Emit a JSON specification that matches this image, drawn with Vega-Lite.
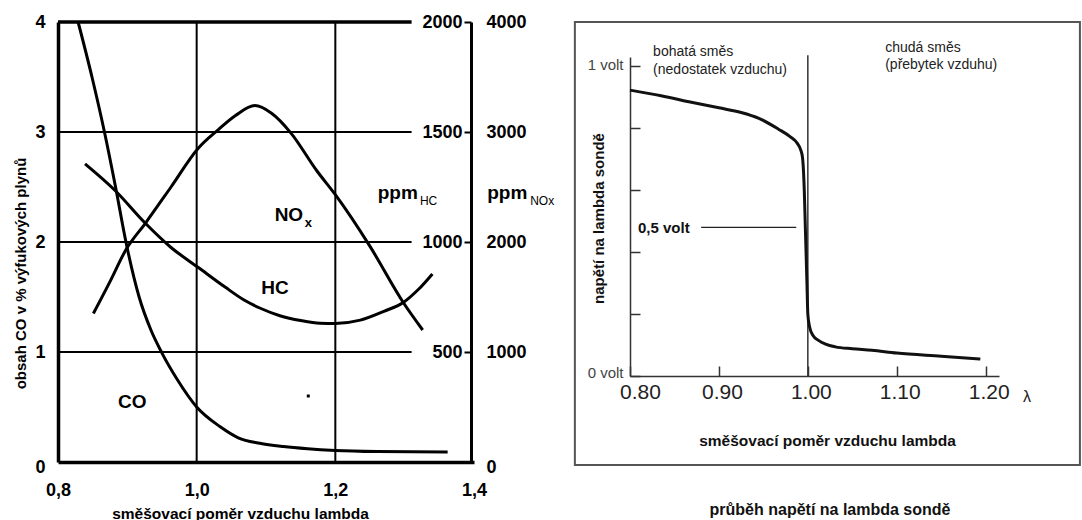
{
  "$schema": "https://vega.github.io/schema/vega-lite/v6.json",
  "width": 1082,
  "height": 520,
  "padding": 0,
  "autosize": {"type": "none"},
  "background": "white",
  "config": {"view": {"stroke": null}, "font": "Liberation Sans", "axis": {"grid": false}},
  "title": {
    "text": "průběh napětí na lambda sondě",
    "orient": "bottom",
    "anchor": "middle",
    "frame": "group",
    "offset": -12,
    "dx": 289,
    "baseline": "middle",
    "fontSize": 16,
    "fontWeight": "bold",
    "font": "Liberation Sans",
    "color": "#111"
  },
  "datasets": {
    "co": [
      {"lambda": 0.829, "co": 4.0}, {"lambda": 0.849, "co": 3.5}, {"lambda": 0.867, "co": 3.0},
      {"lambda": 0.883, "co": 2.5}, {"lambda": 0.898, "co": 2.0}, {"lambda": 0.917, "co": 1.5},
      {"lambda": 0.934, "co": 1.2}, {"lambda": 0.95, "co": 0.99}, {"lambda": 0.972, "co": 0.75},
      {"lambda": 1.0, "co": 0.5}, {"lambda": 1.034, "co": 0.32}, {"lambda": 1.06, "co": 0.22},
      {"lambda": 1.091, "co": 0.17}, {"lambda": 1.125, "co": 0.14}, {"lambda": 1.16, "co": 0.12},
      {"lambda": 1.2, "co": 0.105}, {"lambda": 1.26, "co": 0.095}, {"lambda": 1.362, "co": 0.09}
    ],
    "hc": [
      {"lambda": 0.839, "ppm": 1355}, {"lambda": 0.882, "ppm": 1235}, {"lambda": 0.926, "ppm": 1085},
      {"lambda": 0.963, "ppm": 975}, {"lambda": 1.002, "ppm": 885}, {"lambda": 1.041, "ppm": 795},
      {"lambda": 1.069, "ppm": 735}, {"lambda": 1.091, "ppm": 700}, {"lambda": 1.12, "ppm": 665},
      {"lambda": 1.15, "ppm": 643}, {"lambda": 1.178, "ppm": 631}, {"lambda": 1.2, "ppm": 630},
      {"lambda": 1.236, "ppm": 645}, {"lambda": 1.27, "ppm": 685}, {"lambda": 1.298, "ppm": 725},
      {"lambda": 1.32, "ppm": 785}, {"lambda": 1.34, "ppm": 855}
    ],
    "nox": [
      {"lambda": 0.851, "ppm": 1350}, {"lambda": 0.875, "ppm": 1640}, {"lambda": 0.898, "ppm": 1930},
      {"lambda": 0.926, "ppm": 2170}, {"lambda": 0.963, "ppm": 2500}, {"lambda": 1.002, "ppm": 2850},
      {"lambda": 1.031, "ppm": 3020}, {"lambda": 1.056, "ppm": 3150}, {"lambda": 1.084, "ppm": 3240},
      {"lambda": 1.108, "ppm": 3170}, {"lambda": 1.136, "ppm": 2990}, {"lambda": 1.173, "ppm": 2650},
      {"lambda": 1.2, "ppm": 2430}, {"lambda": 1.25, "ppm": 1960}, {"lambda": 1.298, "ppm": 1450},
      {"lambda": 1.326, "ppm": 1200}
    ],
    "volt": [
      {"lambda": 0.8, "u": 0.923}, {"lambda": 0.835, "u": 0.905}, {"lambda": 0.869, "u": 0.884},
      {"lambda": 0.9, "u": 0.866}, {"lambda": 0.925, "u": 0.851}, {"lambda": 0.945, "u": 0.832},
      {"lambda": 0.967, "u": 0.797}, {"lambda": 0.98, "u": 0.773}, {"lambda": 0.988, "u": 0.752},
      {"lambda": 0.992, "u": 0.73}, {"lambda": 0.994, "u": 0.706}, {"lambda": 0.996, "u": 0.6},
      {"lambda": 0.997, "u": 0.5}, {"lambda": 0.998, "u": 0.4}, {"lambda": 0.999, "u": 0.3},
      {"lambda": 1.0, "u": 0.2}, {"lambda": 1.002, "u": 0.158}, {"lambda": 1.006, "u": 0.13},
      {"lambda": 1.012, "u": 0.115}, {"lambda": 1.02, "u": 0.103}, {"lambda": 1.031, "u": 0.094},
      {"lambda": 1.05, "u": 0.088}, {"lambda": 1.072, "u": 0.083}, {"lambda": 1.1, "u": 0.074},
      {"lambda": 1.15, "u": 0.064}, {"lambda": 1.194, "u": 0.055}
    ],
    "gridH": [{"val": 1}, {"val": 2}, {"val": 3}],
    "gridV": [{"val": 1.0}, {"val": 1.2}],
    "labelsL": [
      {"t": "NO", "lambda": 1.133, "co": 2.245},
      {"t": "HC", "lambda": 1.113, "co": 1.58},
      {"t": "CO", "lambda": 0.907, "co": 0.545},
      {"t": "ppm", "lambda": 1.29, "co": 2.445},
      {"t": "ppm", "lambda": 1.448, "co": 2.445}
    ],
    "subL": [
      {"t": "HC", "lambda": 1.322, "co": 2.37},
      {"t": "NOx", "lambda": 1.481, "co": 2.37}
    ],
    "subX": [{"t": "x", "lambda": 1.156, "co": 2.17}],
    "dot": [{"lambda": 1.161, "co": 0.6}],
    "notesR": [
      {"t": "bohatá směs", "lambda": 0.826, "u": 1.046},
      {"t": "(nedostatek vzduchu)", "lambda": 0.826, "u": 0.988},
      {"t": "chudá směs", "lambda": 1.087, "u": 1.059},
      {"t": "(přebytek vzduhu)", "lambda": 1.087, "u": 1.004}
    ],
    "halfVolt": [{"t": "0,5 volt", "lambda": 0.809, "u": 0.478}],
    "lambdaSym": [{"t": "λ", "lambda": 1.2466, "u": -0.068}],
    "one": [{}]
  },
  "layer": [
    {
      "data": {"name": "gridH"},
      "mark": {"type": "rule", "color": "black", "strokeWidth": 2},
      "encoding": {
        "y": {"field": "val", "type": "quantitative", "scale": {"domain": [0, 4], "range": [462, 22], "nice": false, "zero": false}, "axis": null},
        "x": {"datum": 0.8, "type": "quantitative", "scale": {"domain": [0.8, 1.4], "range": [58, 474], "nice": false, "zero": false}, "axis": null},
        "x2": {"datum": 1.31}
      }
    },
    {
      "data": {"name": "one"},
      "mark": {"type": "rule", "color": "black", "strokeWidth": 3.5},
      "encoding": {
        "y": {"datum": 4, "type": "quantitative", "scale": {"domain": [0, 4], "range": [462, 22], "nice": false, "zero": false}, "axis": null},
        "x": {"datum": 0.8, "type": "quantitative", "scale": {"domain": [0.8, 1.4], "range": [58, 474], "nice": false, "zero": false}, "axis": null},
        "x2": {"datum": 1.31}
      }
    },
    {
      "data": {"name": "gridV"},
      "mark": {"type": "rule", "color": "black", "strokeWidth": 2},
      "encoding": {
        "x": {"field": "val", "type": "quantitative", "scale": {"domain": [0.8, 1.4], "range": [58, 474], "nice": false, "zero": false}, "axis": null},
        "y": {"datum": 0, "type": "quantitative", "scale": {"domain": [0, 4], "range": [462, 22], "nice": false, "zero": false}, "axis": null},
        "y2": {"datum": 4}
      }
    },
    {
      "data": {"name": "co"},
      "mark": {"type": "line", "color": "black", "strokeWidth": 3, "interpolate": "monotone"},
      "encoding": {
        "x": {
          "field": "lambda", "type": "quantitative",
          "scale": {"domain": [0.8, 1.4], "range": [58, 474], "nice": false, "zero": false},
          "axis": {
            "orient": "bottom", "offset": -58, "values": [0.8, 1.0, 1.2, 1.4],
            "labelExpr": "replace(format(datum.value, '.1f'), '.', ',')",
            "domainColor": "black", "domainWidth": 3.5, "ticks": false,
            "labelPadding": 19, "labelFontSize": 18, "labelFontWeight": "bold", "labelColor": "black",
            "labelFlush": false,
            "title": "směšovací poměr vzduchu lambda", "titleFontSize": 15.5, "titleFontWeight": "bold",
            "titleColor": "black", "titleX": 240, "titleY": 51, "titleBaseline": "middle", "titleAlign": "center"
          }
        },
        "y": {
          "field": "co", "type": "quantitative",
          "scale": {"domain": [0, 4], "range": [462, 22], "nice": false, "zero": false},
          "axis": {
            "orient": "left", "offset": -58, "values": [0, 1, 2, 3, 4], "format": "d",
            "domainColor": "black", "domainWidth": 3.5, "ticks": false,
            "labelPadding": 13, "labelFontSize": 18, "labelFontWeight": "bold", "labelColor": "black",
            "labelFlush": false,
            "labelOffset": {"condition": {"test": "datum.value === 0", "value": 5}, "value": 0},
            "title": "obsah CO v % výfukových plynů", "titleFontSize": 15, "titleFontWeight": "bold",
            "titleColor": "black", "titleX": -38, "titleY": 273, "titleBaseline": "middle", "titleAlign": "center", "titleAngle": -90
          }
        }
      }
    },
    {
      "data": {"name": "labelsL"},
      "mark": {"type": "text", "fontSize": 19, "fontWeight": "bold", "color": "black", "align": "center", "baseline": "middle"},
      "encoding": {
        "x": {"field": "lambda", "type": "quantitative", "scale": {"domain": [0.8, 1.4], "range": [58, 474], "nice": false, "zero": false}, "axis": null},
        "y": {"field": "co", "type": "quantitative", "scale": {"domain": [0, 4], "range": [462, 22], "nice": false, "zero": false}, "axis": null},
        "text": {"field": "t"}
      }
    },
    {
      "data": {"name": "subL"},
      "mark": {"type": "text", "fontSize": 12, "color": "black", "align": "left", "baseline": "middle"},
      "encoding": {
        "x": {"field": "lambda", "type": "quantitative", "scale": {"domain": [0.8, 1.4], "range": [58, 474], "nice": false, "zero": false}, "axis": null},
        "y": {"field": "co", "type": "quantitative", "scale": {"domain": [0, 4], "range": [462, 22], "nice": false, "zero": false}, "axis": null},
        "text": {"field": "t"}
      }
    },
    {
      "data": {"name": "subX"},
      "mark": {"type": "text", "fontSize": 13, "fontWeight": "bold", "color": "black", "align": "left", "baseline": "middle"},
      "encoding": {
        "x": {"field": "lambda", "type": "quantitative", "scale": {"domain": [0.8, 1.4], "range": [58, 474], "nice": false, "zero": false}, "axis": null},
        "y": {"field": "co", "type": "quantitative", "scale": {"domain": [0, 4], "range": [462, 22], "nice": false, "zero": false}, "axis": null},
        "text": {"field": "t"}
      }
    },
    {
      "data": {"name": "dot"},
      "mark": {"type": "square", "size": 9, "color": "black", "opacity": 1, "filled": true},
      "encoding": {
        "x": {"field": "lambda", "type": "quantitative", "scale": {"domain": [0.8, 1.4], "range": [58, 474], "nice": false, "zero": false}, "axis": null},
        "y": {"field": "co", "type": "quantitative", "scale": {"domain": [0, 4], "range": [462, 22], "nice": false, "zero": false}, "axis": null}
      }
    },
    {
      "data": {"name": "hc"},
      "mark": {"type": "line", "color": "black", "strokeWidth": 3, "interpolate": "monotone"},
      "encoding": {
        "x": {"field": "lambda", "type": "quantitative", "scale": {"domain": [0.8, 1.4], "range": [58, 474], "nice": false, "zero": false}, "axis": null},
        "y": {
          "field": "ppm", "type": "quantitative",
          "scale": {"domain": [0, 2000], "range": [462, 22], "nice": false, "zero": false},
          "axis": {
            "orient": "left", "offset": -471, "values": [500, 1000, 1500, 2000], "format": "d",
            "domain": false, "ticks": true, "tickSize": 7, "tickWidth": 2, "tickColor": "black",
            "labelPadding": 2, "labelFontSize": 18, "labelFontWeight": "bold", "labelColor": "black",
            "labelFlush": false, "title": null
          }
        }
      }
    },
    {
      "data": {"name": "nox"},
      "mark": {"type": "line", "color": "black", "strokeWidth": 3, "interpolate": "monotone"},
      "encoding": {
        "x": {"field": "lambda", "type": "quantitative", "scale": {"domain": [0.8, 1.4], "range": [58, 474], "nice": false, "zero": false}, "axis": null},
        "y": {
          "field": "ppm", "type": "quantitative",
          "scale": {"domain": [0, 4000], "range": [462, 22], "nice": false, "zero": false},
          "axis": {
            "orient": "right", "offset": -611, "values": [0, 1000, 2000, 3000, 4000], "format": "d",
            "domain": true, "domainColor": "black", "domainWidth": 3, "ticks": false,
            "labelPadding": 15, "labelFontSize": 18, "labelFontWeight": "bold", "labelColor": "black",
            "labelFlush": false,
            "labelOffset": {"condition": {"test": "datum.value === 0", "value": 5}, "value": 0},
            "title": null
          }
        }
      }
    },
    {
      "data": {"name": "one"},
      "mark": {"type": "rect", "fill": null, "fillOpacity": 0, "stroke": "#555", "strokeWidth": 2},
      "encoding": {
        "x": {"datum": 0.738, "type": "quantitative", "scale": {"domain": [0.8, 1.215], "range": [630, 999], "nice": false, "zero": false}, "axis": null},
        "x2": {"datum": 1.306},
        "y": {"datum": 1.143, "type": "quantitative", "scale": {"domain": [0, 1.03], "range": [376, 57], "nice": false, "zero": false}, "axis": null},
        "y2": {"datum": -0.287}
      }
    },
    {
      "data": {"name": "one"},
      "mark": {"type": "rule", "color": "#333", "strokeWidth": 1.5},
      "encoding": {
        "x": {"datum": 1.0, "type": "quantitative", "scale": {"domain": [0.8, 1.215], "range": [630, 999], "nice": false, "zero": false}, "axis": null},
        "y": {"datum": 0, "type": "quantitative", "scale": {"domain": [0, 1.03], "range": [376, 57], "nice": false, "zero": false}, "axis": null},
        "y2": {"datum": 1.036}
      }
    },
    {
      "data": {"name": "one"},
      "mark": {"type": "rule", "color": "#222", "strokeWidth": 1.2},
      "encoding": {
        "x": {"datum": 0.88, "type": "quantitative", "scale": {"domain": [0.8, 1.215], "range": [630, 999], "nice": false, "zero": false}, "axis": null},
        "x2": {"datum": 0.987},
        "y": {"datum": 0.48, "type": "quantitative", "scale": {"domain": [0, 1.03], "range": [376, 57], "nice": false, "zero": false}, "axis": null}
      }
    },
    {
      "data": {"name": "volt"},
      "mark": {"type": "line", "color": "#111", "strokeWidth": 3, "interpolate": "monotone"},
      "encoding": {
        "x": {
          "field": "lambda", "type": "quantitative",
          "scale": {"domain": [0.8, 1.215], "range": [630, 999], "nice": false, "zero": false},
          "axis": {
            "orient": "bottom", "offset": -144, "values": [0.8, 0.9, 1.0, 1.1, 1.2], "format": ".2f",
            "domainColor": "#333", "domainWidth": 1.5, "tickSize": -10, "tickColor": "#333", "tickWidth": 1.5,
            "labelPadding": 15, "labelFontSize": 21, "labelColor": "#222", "labelFlush": false,
            "labelOffset": {"condition": {"test": "datum.value < 0.85", "value": 10}, "value": 3},
            "title": "směšovací poměr vzduchu lambda", "titleFontSize": 15.5, "titleFontWeight": "bold",
            "titleColor": "#111", "titleX": 827, "titleY": 64, "titleBaseline": "middle", "titleAlign": "center"
          }
        },
        "y": {
          "field": "u", "type": "quantitative",
          "scale": {"domain": [0, 1.03], "range": [376, 57], "nice": false, "zero": false},
          "axis": {
            "orient": "left", "offset": -630, "values": [0, 0.2, 0.4, 0.6, 0.8, 1.0],
            "labelExpr": "datum.value === 1 ? '1 volt' : (datum.value === 0 ? '0 volt' : '')",
            "domainColor": "#333", "domainWidth": 1.5, "tickSize": -10, "tickColor": "#333", "tickWidth": 1.5,
            "labelPadding": 17, "labelFontSize": 15, "labelColor": "#444", "labelFlush": false,
            "labelOffset": {"condition": {"test": "datum.value === 0", "value": -4}, "value": -2},
            "title": "napětí na lambda sondě", "titleFontSize": 15, "titleFontWeight": "bold",
            "titleColor": "#111", "titleX": -32, "titleY": 218, "titleBaseline": "middle", "titleAlign": "center", "titleAngle": -90
          }
        }
      }
    },
    {
      "data": {"name": "notesR"},
      "mark": {"type": "text", "fontSize": 14, "color": "#222", "align": "left", "baseline": "middle"},
      "encoding": {
        "x": {"field": "lambda", "type": "quantitative", "scale": {"domain": [0.8, 1.215], "range": [630, 999], "nice": false, "zero": false}, "axis": null},
        "y": {"field": "u", "type": "quantitative", "scale": {"domain": [0, 1.03], "range": [376, 57], "nice": false, "zero": false}, "axis": null},
        "text": {"field": "t"}
      }
    },
    {
      "data": {"name": "halfVolt"},
      "mark": {"type": "text", "fontSize": 15, "fontWeight": "bold", "color": "#111", "align": "left", "baseline": "middle"},
      "encoding": {
        "x": {"field": "lambda", "type": "quantitative", "scale": {"domain": [0.8, 1.215], "range": [630, 999], "nice": false, "zero": false}, "axis": null},
        "y": {"field": "u", "type": "quantitative", "scale": {"domain": [0, 1.03], "range": [376, 57], "nice": false, "zero": false}, "axis": null},
        "text": {"field": "t"}
      }
    },
    {
      "data": {"name": "lambdaSym"},
      "mark": {"type": "text", "fontSize": 16, "color": "#222", "align": "center", "baseline": "middle"},
      "encoding": {
        "x": {"field": "lambda", "type": "quantitative", "scale": {"domain": [0.8, 1.215], "range": [630, 999], "nice": false, "zero": false}, "axis": null},
        "y": {"field": "u", "type": "quantitative", "scale": {"domain": [0, 1.03], "range": [376, 57], "nice": false, "zero": false}, "axis": null},
        "text": {"field": "t"}
      }
    }
  ],
  "resolve": {"scale": {"x": "independent", "y": "independent"}}
}
